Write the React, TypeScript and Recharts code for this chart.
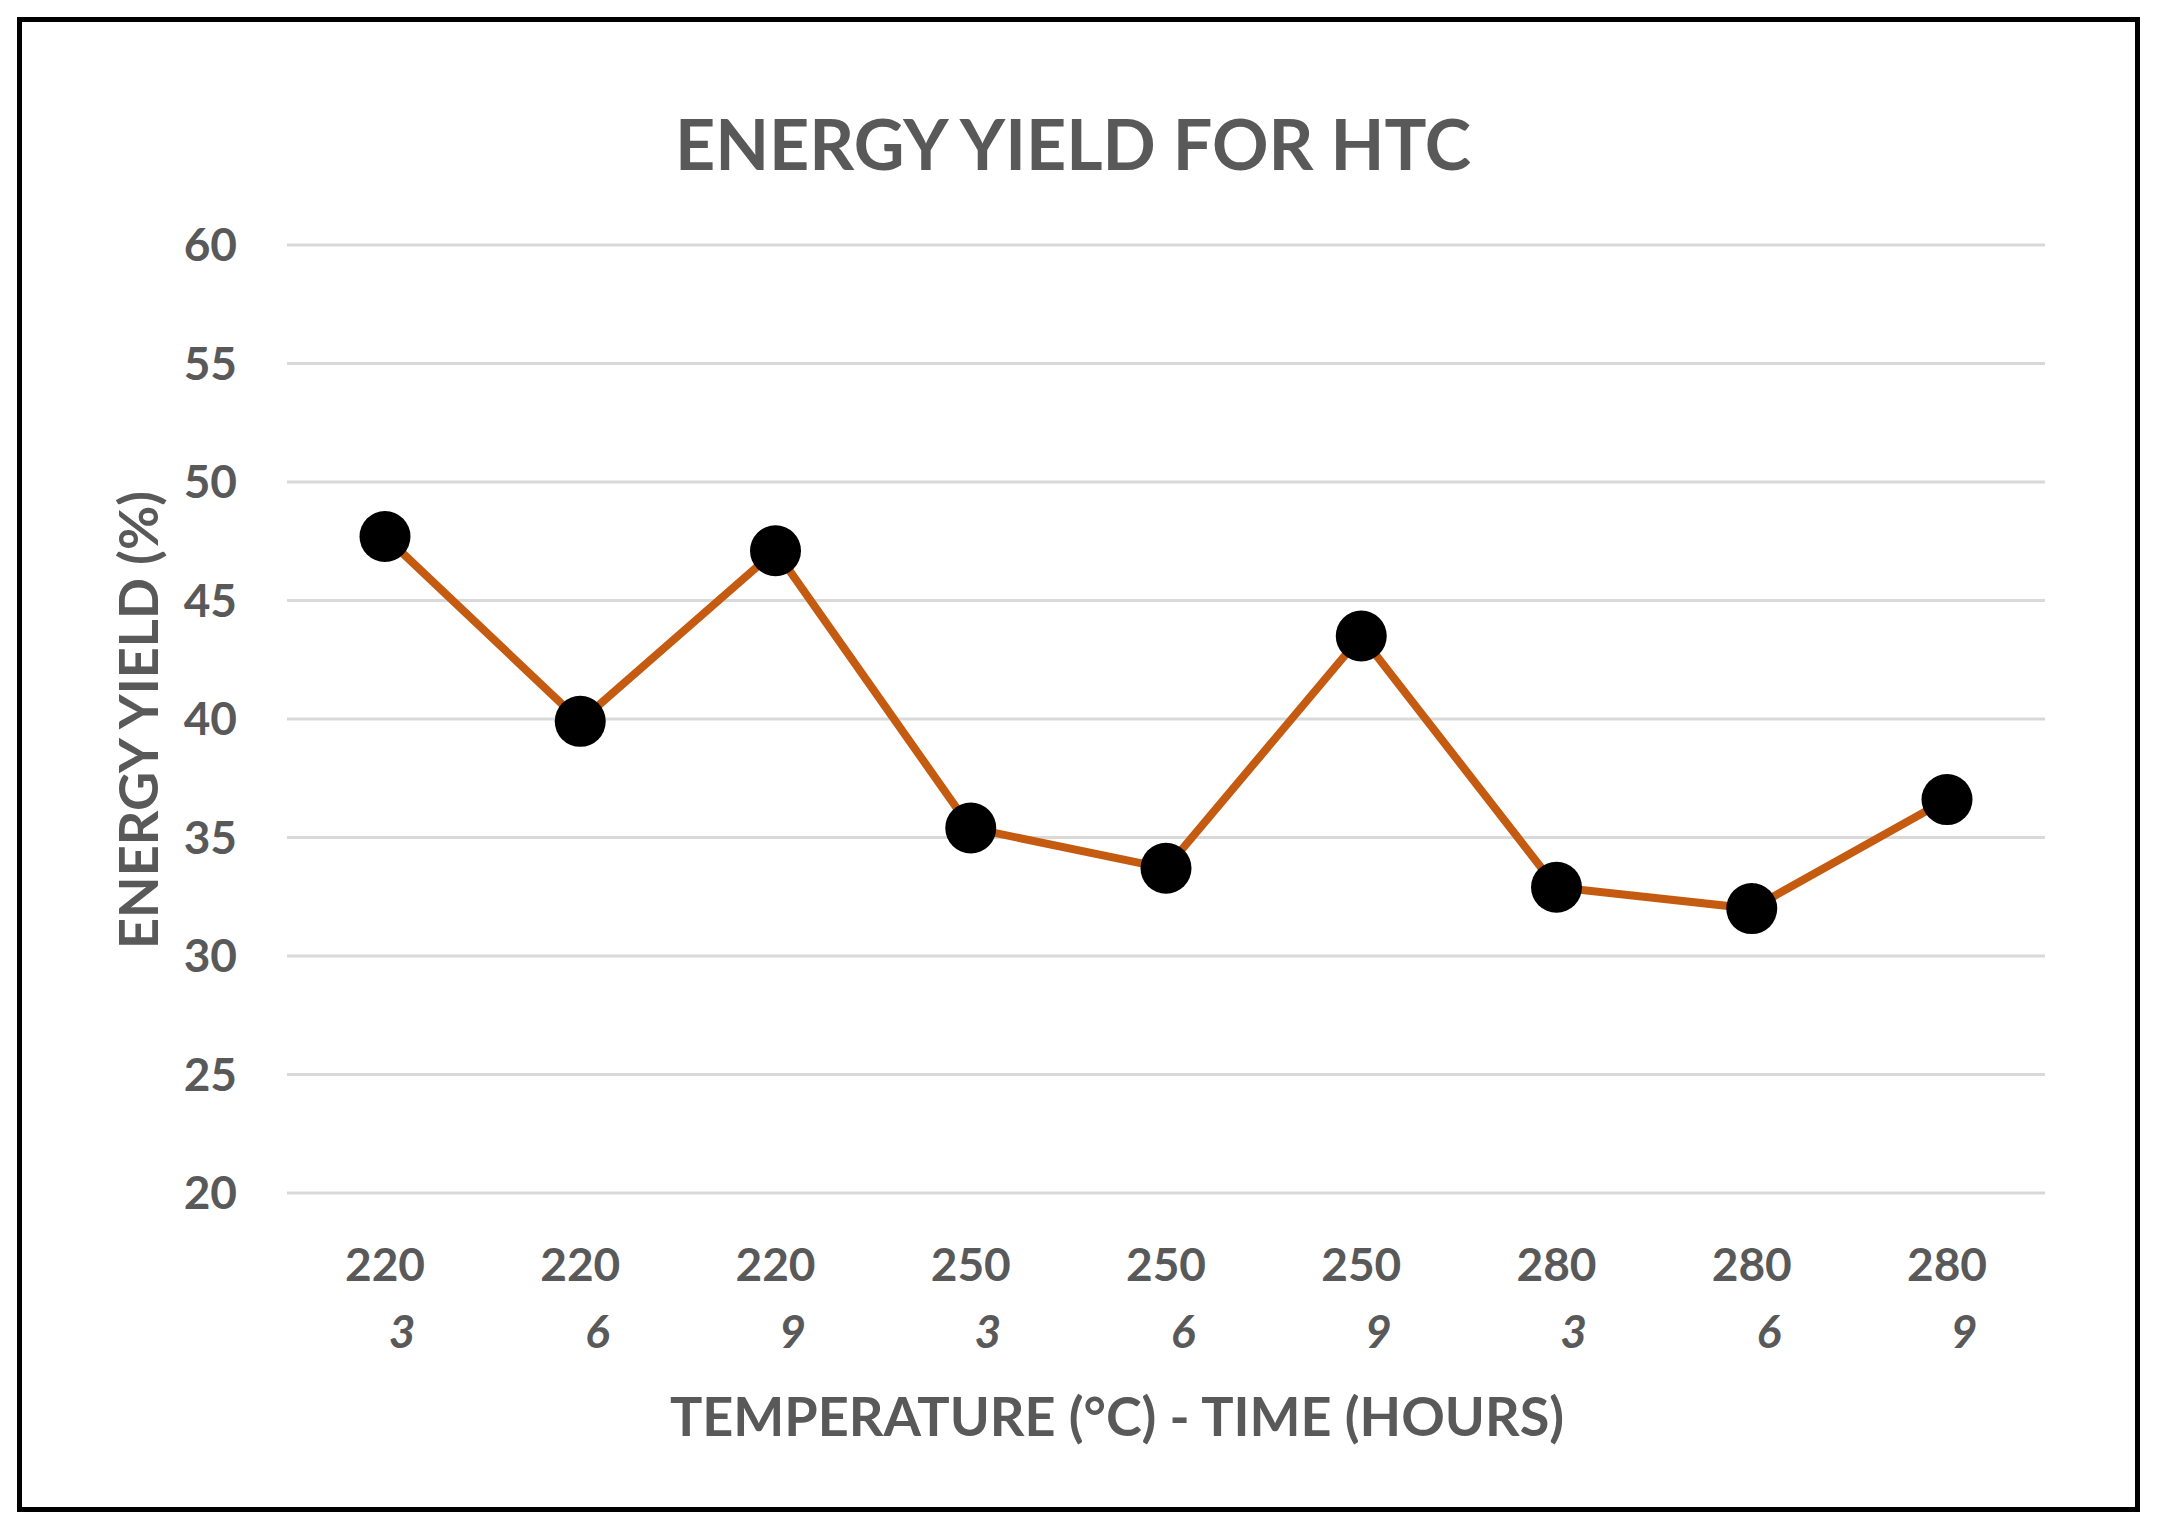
import { CartesianGrid, Line, LineChart, XAxis, YAxis } from "recharts"

const temperatures = ["220", "220", "220", "250", "250", "250", "280", "280", "280"]
const hours = ["3", "6", "9", "3", "6", "9", "3", "6", "9"]
const energyYield = [47.7, 39.9, 47.1, 35.4, 33.7, 43.5, 32.9, 32.0, 36.6]
const yTicks = [20, 25, 30, 35, 40, 45, 50, 55, 60]

const data = temperatures.map((t, i) => ({
  name: `${t}-${hours[i]}-${i}`,
  value: energyYield[i],
}))

const FONT = "Lato, 'Open Sans', sans-serif"
const GREY = "#595959"

function CategoryTick(props: any) {
  const { x, y, payload } = props
  const i = payload.index
  return (
    <g>
      <text x={x} y={y + 88} textAnchor="middle" fill={GREY} fontSize={46} fontWeight={700} fontFamily={FONT}>
        {temperatures[i]}
      </text>
      <text x={x + 17} y={y + 155} textAnchor="middle" fill={GREY} fontSize={46} fontWeight={700} fontStyle="italic" fontFamily={FONT}>
        {hours[i]}
      </text>
    </g>
  )
}

export default function App() {
  return (
    <div style={{ position: "absolute", left: 0, top: 0, width: 2157, height: 1534, background: "#fff" }}>
      <LineChart width={2157} height={1534} data={data} margin={{ top: 245, right: 112, bottom: 0, left: 0 }}>
        <CartesianGrid vertical={false} stroke="#D9D9D9" strokeWidth={3} />
        <XAxis
          dataKey="name"
          height={341}
          axisLine={false}
          tickLine={false}
          tickSize={0}
          tickMargin={0}
          interval={0}
          padding={{ left: 98, right: 98 }}
          tick={<CategoryTick />}
        />
        <YAxis
          domain={[20, 60]}
          ticks={yTicks}
          width={287}
          axisLine={false}
          tickLine={false}
          tickSize={0}
          tickMargin={50}
          tick={{ fill: GREY, fontSize: 46, fontWeight: 700, fontFamily: FONT }}
        />
        <Line
          type="linear"
          dataKey="value"
          stroke="#C55A11"
          strokeWidth={8}
          dot={{ r: 25.5, fill: "#000", stroke: "#000", strokeWidth: 0 }}
          activeDot={false}
          isAnimationActive={false}
        />
      </LineChart>
      <svg width={2157} height={1534} style={{ position: "absolute", left: 0, top: 0, pointerEvents: "none" }}>
        <text x={1073} y={170} textAnchor="middle" fill={GREY} fontSize={70} fontWeight={700} fontFamily={FONT}>
          ENERGY YIELD FOR HTC
        </text>
        <text x={1117} y={1436} textAnchor="middle" fill={GREY} fontSize={54} fontWeight={700} fontFamily={FONT}>
          TEMPERATURE (°C) - TIME (HOURS)
        </text>
        <text
          x={158}
          y={720}
          transform="rotate(-90 158 720)"
          textAnchor="middle"
          fill={GREY}
          fontSize={54}
          fontWeight={700}
          fontFamily={FONT}
        >
          ENERGY YIELD (%)
        </text>
      </svg>
      <div
        style={{
          position: "absolute",
          left: 17,
          top: 17,
          width: 2123,
          height: 1495,
          border: "5px solid #000",
          boxSizing: "border-box",
          pointerEvents: "none",
        }}
      />
    </div>
  )
}
